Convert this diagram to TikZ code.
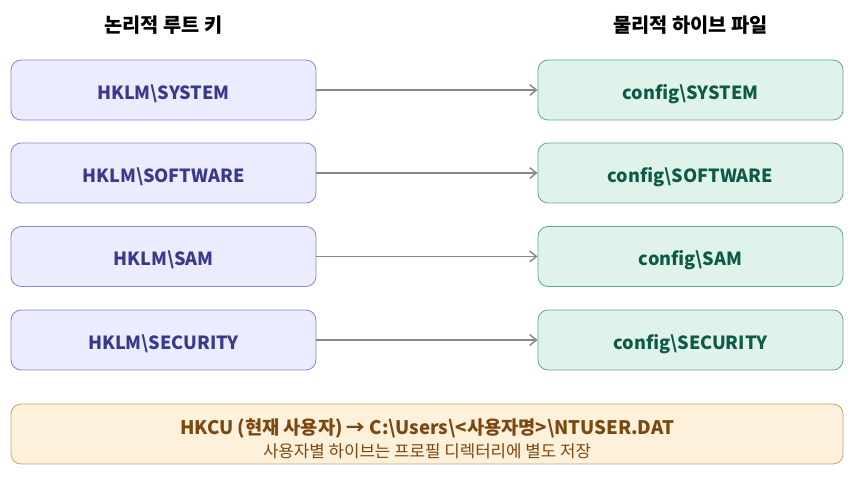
\documentclass[tikz,border=0pt]{standalone}
\usepackage{fontspec}
\setmainfont{Noto Sans CJK KR}
\usetikzlibrary{arrows.meta}
\definecolor{lfill}{HTML}{ECECFF}
\definecolor{ldraw}{HTML}{9080D8}
\definecolor{ltext}{HTML}{3A3A8C}
\definecolor{rfill}{HTML}{E0F3EB}
\definecolor{rdraw}{HTML}{5FAA8C}
\definecolor{rtext}{HTML}{0E5A48}
\definecolor{bfill}{HTML}{FDF1DC}
\definecolor{bdraw}{HTML}{C9A26A}
\definecolor{btext}{HTML}{7A4810}
\definecolor{arr}{HTML}{888888}
\tikzset{
  boxfont/.style={font=\bfseries\fontsize{13.6pt}{16pt}\selectfont, text height=14pt, text depth=0pt},
  lbox/.style={draw=ldraw, fill=lfill, rounded corners=7.5pt, minimum width=228.75pt, minimum height=45pt, text=ltext, boxfont, line width=0.6pt},
  rbox/.style={draw=rdraw, fill=rfill, rounded corners=7.5pt, minimum width=228.75pt, minimum height=45pt, text=rtext, boxfont, line width=0.6pt},
  bbox/.style={draw=bdraw, fill=bfill, rounded corners=7.5pt, minimum width=624pt, minimum height=45pt, line width=0.6pt},
  title/.style={font=\bfseries\fontsize{14.8pt}{17pt}\selectfont, text=black, text height=11pt, text depth=0pt},
  link/.style={draw=arr, line width=1.1pt, -{Straight Barb[length=5pt,width=8pt]}}
}
\begin{document}
\begin{tikzpicture}[x=0.75pt,y=-0.75pt]
\useasboundingbox (0,0) rectangle (855,484);
\node[title] (tl) at (163.5,25) {논리적 루트 키};
\node[title] (tr) at (690.5,25) {물리적 하이브 파일};
\node[lbox] (l1) at (163.5,90) {HKLM\textbackslash SYSTEM};
\node[lbox] (l2) at (163.5,173) {HKLM\textbackslash SOFTWARE};
\node[lbox] (l3) at (163.5,256.5) {HKLM\textbackslash SAM};
\node[lbox] (l4) at (163.5,340) {HKLM\textbackslash SECURITY};
\node[rbox] (r1) at (690.5,90) {config\textbackslash SYSTEM};
\node[rbox] (r2) at (690.5,173) {config\textbackslash SOFTWARE};
\node[rbox] (r3) at (690.5,256.5) {config\textbackslash SAM};
\node[rbox] (r4) at (690.5,340) {config\textbackslash SECURITY};
\draw[link] (l1) -- (r1);
\draw[link] (l2) -- (r2);
\draw[link] (l3) -- (r3);
\draw[link] (l4) -- (r4);
\node[bbox] (b) at (427,434) {};
\node[text=btext, font=\bfseries\fontsize{14pt}{16pt}\selectfont, text height=13pt, text depth=0pt] (b1) at (427,426) {HKCU (현재 사용자) → C:\textbackslash Users\textbackslash <사용자명>\textbackslash NTUSER.DAT};
\node[text=btext, font=\fontsize{12.6pt}{14pt}\selectfont, text height=11pt, text depth=0pt] (b2) at (427,450) {사용자별 하이브는 프로필 디렉터리에 별도 저장};
\end{tikzpicture}
\end{document}
